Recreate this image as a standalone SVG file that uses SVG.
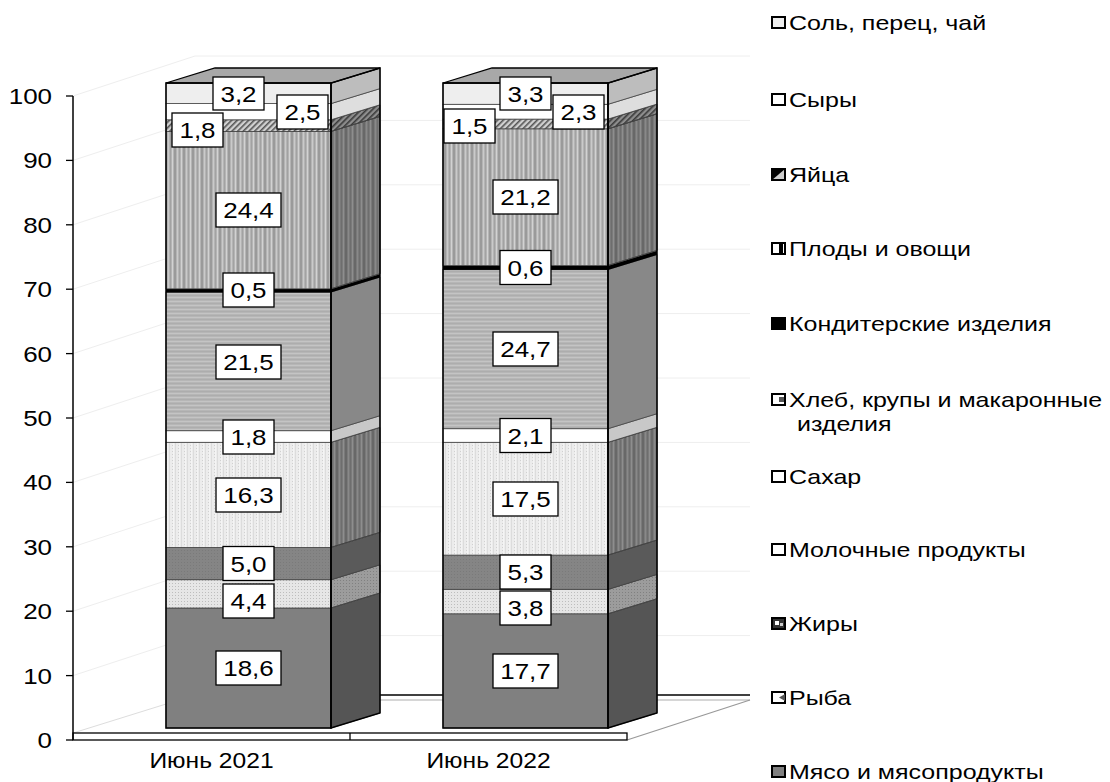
<svg xmlns="http://www.w3.org/2000/svg" width="1110" height="782" viewBox="0 0 1110 782">
<defs>
<style>
.t{font-family:"Liberation Sans",Arial,sans-serif;font-size:22px;fill:#000}
.lg{font-family:"Liberation Sans",Arial,sans-serif;font-size:21px;fill:#000}
.box{fill:#fff;stroke:#000;stroke-width:1.3}
.seg{stroke:#444;stroke-width:0.8}
.dark{fill:#000;fill-opacity:0.32;stroke:#444;stroke-width:0.8}
.grid{fill:none;stroke:#eeeeee;stroke-width:1}
.mk{stroke:#000;stroke-width:2}
</style>
<pattern id="pFruit" width="9" height="4" patternUnits="userSpaceOnUse">
<rect width="9" height="4" fill="#b4b4b4"/>
<rect x="1" width="1" height="4" fill="#d2d2d2"/>
<rect x="3" width="2" height="4" fill="#9a9a9a"/>
<rect x="6" width="1" height="4" fill="#cacaca"/>
<rect x="8" width="1" height="4" fill="#a2a2a2"/>
</pattern>
<pattern id="pDairy" width="6" height="3" patternUnits="userSpaceOnUse">
<rect width="6" height="3" fill="#ececec"/>
<rect x="1" width="1" height="3" fill="#dcdcdc"/>
<rect x="4" y="1" width="1" height="1" fill="#d0d0d0"/>
<rect x="5" width="1" height="3" fill="#f4f4f4"/>
</pattern>
<pattern id="pBread" width="4" height="4" patternUnits="userSpaceOnUse">
<rect width="4" height="4" fill="#b6b6b6"/>
<rect y="1" width="4" height="1" fill="#c4c4c4"/>
<rect y="3" width="4" height="1" fill="#adadad"/>
</pattern>
<pattern id="pFish" width="3" height="3" patternUnits="userSpaceOnUse">
<rect width="3" height="3" fill="#e6e6e6"/>
<rect x="1" y="1" width="1" height="1" fill="#bdbdbd"/>
</pattern>
<pattern id="pFat" width="3" height="3" patternUnits="userSpaceOnUse">
<rect width="3" height="3" fill="#858585"/>
<rect x="1" y="1" width="1" height="1" fill="#7a7a7a"/>
</pattern>
<pattern id="pEgg" width="4" height="4" patternUnits="userSpaceOnUse" patternTransform="rotate(45)">
<rect width="4" height="4" fill="#d0d0d0"/>
<rect width="1.6" height="4" fill="#555"/>
</pattern>
</defs>
<rect width="1110" height="782" fill="#fff"/>

<g id="gridlines">
<polyline class="grid" points="73,675.6 195,635.6 750,635.6"/>
<polyline class="grid" points="73,611.2 195,571.2 750,571.2"/>
<polyline class="grid" points="73,546.8 195,506.8 750,506.8"/>
<polyline class="grid" points="73,482.4 195,442.4 750,442.4"/>
<polyline class="grid" points="73,418 195,378 750,378"/>
<polyline class="grid" points="73,353.6 195,313.6 750,313.6"/>
<polyline class="grid" points="73,289.2 195,249.2 750,249.2"/>
<polyline class="grid" points="73,224.8 195,184.8 750,184.8"/>
<polyline class="grid" points="73,160.4 195,120.4 750,120.4"/>
<polyline class="grid" points="73,96 195,56 750,56"/>
</g>

<g id="floor">
<line x1="73" y1="733" x2="195" y2="695" stroke="#dddddd" stroke-width="1"/>
<line x1="195" y1="700" x2="750" y2="700" stroke="#c8c8c8" stroke-width="1.5"/>
<line x1="195" y1="695" x2="750" y2="695" stroke="#000" stroke-width="1.3"/>
<line x1="627" y1="740" x2="750" y2="700" stroke="#999" stroke-width="1.3"/>
<rect x="73" y="733" width="554" height="7" fill="#fff" stroke="#000" stroke-width="1.3"/>
<line x1="350" y1="733" x2="350" y2="740" stroke="#000" stroke-width="1.3"/>
</g>

<g id="axis">
<line x1="73" y1="96" x2="73" y2="740" stroke="#000" stroke-width="1.5"/>
<g stroke="#000" stroke-width="1.3">
<line x1="66" y1="740" x2="73" y2="740"/><line x1="66" y1="675.6" x2="73" y2="675.6"/>
<line x1="66" y1="611.2" x2="73" y2="611.2"/><line x1="66" y1="546.8" x2="73" y2="546.8"/>
<line x1="66" y1="482.4" x2="73" y2="482.4"/><line x1="66" y1="418" x2="73" y2="418"/>
<line x1="66" y1="353.6" x2="73" y2="353.6"/><line x1="66" y1="289.2" x2="73" y2="289.2"/>
<line x1="66" y1="224.8" x2="73" y2="224.8"/><line x1="66" y1="160.4" x2="73" y2="160.4"/>
<line x1="66" y1="96" x2="73" y2="96"/>
</g>
<g class="t" text-anchor="end">
<text transform="translate(52,748) scale(1.18,1)">0</text>
<text transform="translate(52,683.6) scale(1.18,1)">10</text>
<text transform="translate(52,619.2) scale(1.18,1)">20</text>
<text transform="translate(52,554.8) scale(1.18,1)">30</text>
<text transform="translate(52,490.4) scale(1.18,1)">40</text>
<text transform="translate(52,426) scale(1.18,1)">50</text>
<text transform="translate(52,361.6) scale(1.18,1)">60</text>
<text transform="translate(52,297.2) scale(1.18,1)">70</text>
<text transform="translate(52,232.8) scale(1.18,1)">80</text>
<text transform="translate(52,168.4) scale(1.18,1)">90</text>
<text transform="translate(52,104) scale(1.18,1)">100</text>
</g>
<g class="t" text-anchor="middle">
<text transform="translate(211.5,768) scale(1.12,1)">Июнь 2021</text>
<text transform="translate(488.5,768) scale(1.12,1)">Июнь 2022</text>
</g>
</g>

<g id="bar-2021">
<rect class="seg" x="166" y="608" width="165" height="120" fill="#808080"/>
<rect class="seg" x="166" y="579.7" width="165" height="28.3" fill="url(#pFish)"/>
<rect class="seg" x="166" y="547.4" width="165" height="32.3" fill="url(#pFat)"/>
<rect class="seg" x="166" y="442.3" width="165" height="105.1" fill="url(#pDairy)"/>
<rect class="seg" x="166" y="430.7" width="165" height="11.6" fill="#fff"/>
<rect class="seg" x="166" y="292" width="165" height="138.7" fill="url(#pBread)"/>
<rect x="166" y="288.8" width="165" height="3.8" fill="#000"/>
<rect class="seg" x="166" y="131.4" width="165" height="157.4" fill="url(#pFruit)"/>
<rect class="seg" x="166" y="119.8" width="165" height="11.6" fill="url(#pEgg)"/>
<rect class="seg" x="166" y="103.6" width="165" height="16.2" fill="#fff"/>
<rect class="seg" x="166" y="83" width="165" height="20.6" fill="#eeeeee"/>
<polygon class="seg" points="331,728 331,608 380,593 380,713" fill="#555"/>
<polygon class="seg" points="331,608 331,579.7 380,564.7 380,593" fill="url(#pFish)"/>
<polygon class="dark" points="331,608 331,579.7 380,564.7 380,593"/>
<polygon class="seg" points="331,579.7 331,547.4 380,532.4 380,564.7" fill="#5a5a5a"/>
<polygon class="seg" points="331,547.4 331,442.3 380,427.3 380,532.4" fill="url(#pFruit)"/>
<polygon class="dark" points="331,547.4 331,442.3 380,427.3 380,532.4"/>
<polygon class="seg" points="331,442.3 331,430.7 380,415.7 380,427.3" fill="#c8c8c8"/>
<polygon class="seg" points="331,430.7 331,292 380,277 380,415.7" fill="#888"/>
<polygon points="331,292.6 331,288.8 380,273.8 380,277.6" fill="#000"/>
<polygon class="seg" points="331,288.8 331,131.4 380,116.4 380,273.8" fill="url(#pFruit)"/>
<polygon class="dark" points="331,288.8 331,131.4 380,116.4 380,273.8" fill-opacity="0.42"/>
<polygon class="seg" points="331,131.4 331,119.8 380,104.8 380,116.4" fill="url(#pEgg)"/>
<polygon class="dark" points="331,131.4 331,119.8 380,104.8 380,116.4"/>
<polygon class="seg" points="331,119.8 331,103.6 380,88.6 380,104.8" fill="#dedede"/>
<polygon class="seg" points="331,103.6 331,83 380,68 380,88.6" fill="#bdbdbd"/>
<polygon points="166,83 331,83 380,68 215,68" fill="#a8a8a8" stroke="#000" stroke-width="1.3"/>
<rect x="166" y="83" width="165" height="645" fill="none" stroke="#000" stroke-width="1.5"/>
<polygon points="331,728 331,83 380,68 380,713" fill="none" stroke="#000" stroke-width="1.5"/>
</g>

<g id="bar-2022">
<rect class="seg" x="443" y="613.8" width="165" height="114.2" fill="#808080"/>
<rect class="seg" x="443" y="589.3" width="165" height="24.5" fill="url(#pFish)"/>
<rect class="seg" x="443" y="555.1" width="165" height="34.2" fill="url(#pFat)"/>
<rect class="seg" x="443" y="442.3" width="165" height="112.8" fill="url(#pDairy)"/>
<rect class="seg" x="443" y="428.7" width="165" height="13.6" fill="#fff"/>
<rect class="seg" x="443" y="269.4" width="165" height="159.3" fill="url(#pBread)"/>
<rect x="443" y="265.5" width="165" height="4.4" fill="#000"/>
<rect class="seg" x="443" y="128.8" width="165" height="136.7" fill="url(#pFruit)"/>
<rect class="seg" x="443" y="119.1" width="165" height="9.7" fill="url(#pEgg)"/>
<rect class="seg" x="443" y="104.3" width="165" height="14.8" fill="#fff"/>
<rect class="seg" x="443" y="83" width="165" height="21.3" fill="#eeeeee"/>
<polygon class="seg" points="608,728 608,613.8 657,598.8 657,713" fill="#555"/>
<polygon class="seg" points="608,613.8 608,589.3 657,574.3 657,598.8" fill="url(#pFish)"/>
<polygon class="dark" points="608,613.8 608,589.3 657,574.3 657,598.8"/>
<polygon class="seg" points="608,589.3 608,555.1 657,540.1 657,574.3" fill="#5a5a5a"/>
<polygon class="seg" points="608,555.1 608,442.3 657,427.3 657,540.1" fill="url(#pFruit)"/>
<polygon class="dark" points="608,555.1 608,442.3 657,427.3 657,540.1"/>
<polygon class="seg" points="608,442.3 608,428.7 657,413.7 657,427.3" fill="#c8c8c8"/>
<polygon class="seg" points="608,428.7 608,269.4 657,254.4 657,413.7" fill="#888"/>
<polygon points="608,269.9 608,265.5 657,250.5 657,254.9" fill="#000"/>
<polygon class="seg" points="608,265.5 608,128.8 657,113.8 657,250.5" fill="url(#pFruit)"/>
<polygon class="dark" points="608,265.5 608,128.8 657,113.8 657,250.5" fill-opacity="0.42"/>
<polygon class="seg" points="608,128.8 608,119.1 657,104.1 657,113.8" fill="url(#pEgg)"/>
<polygon class="dark" points="608,128.8 608,119.1 657,104.1 657,113.8"/>
<polygon class="seg" points="608,119.1 608,104.3 657,89.3 657,104.1" fill="#dedede"/>
<polygon class="seg" points="608,104.3 608,83 657,68 657,89.3" fill="#bdbdbd"/>
<polygon points="443,83 608,83 657,68 492,68" fill="#a8a8a8" stroke="#000" stroke-width="1.3"/>
<rect x="443" y="83" width="165" height="645" fill="none" stroke="#000" stroke-width="1.5"/>
<polygon points="608,728 608,83 657,68 657,713" fill="none" stroke="#000" stroke-width="1.5"/>
</g>

<g id="labels-2021">
<rect class="box" x="216" y="651" width="65" height="34"/><text class="t" text-anchor="middle" transform="translate(248.5,676) scale(1.18,1)">18,6</text>
<rect class="box" x="223" y="584" width="51" height="34"/><text class="t" text-anchor="middle" transform="translate(248.5,609) scale(1.18,1)">4,4</text>
<rect class="box" x="223" y="546.5" width="51" height="34"/><text class="t" text-anchor="middle" transform="translate(248.5,571.5) scale(1.18,1)">5,0</text>
<rect class="box" x="216" y="478" width="65" height="34"/><text class="t" text-anchor="middle" transform="translate(248.5,503) scale(1.18,1)">16,3</text>
<rect class="box" x="223" y="420" width="51" height="34"/><text class="t" text-anchor="middle" transform="translate(248.5,445) scale(1.18,1)">1,8</text>
<rect class="box" x="216" y="345" width="65" height="34"/><text class="t" text-anchor="middle" transform="translate(248.5,370) scale(1.18,1)">21,5</text>
<rect class="box" x="223" y="273" width="51" height="34"/><text class="t" text-anchor="middle" transform="translate(248.5,298) scale(1.18,1)">0,5</text>
<rect class="box" x="216" y="193" width="65" height="34"/><text class="t" text-anchor="middle" transform="translate(248.5,218) scale(1.18,1)">24,4</text>
<rect class="box" x="172" y="113" width="51" height="34"/><text class="t" text-anchor="middle" transform="translate(197.5,138) scale(1.18,1)">1,8</text>
<rect class="box" x="277" y="95" width="51" height="34"/><text class="t" text-anchor="middle" transform="translate(302.5,120) scale(1.18,1)">2,5</text>
<rect class="box" x="213" y="77" width="51" height="33"/><text class="t" text-anchor="middle" transform="translate(238.5,101.5) scale(1.18,1)">3,2</text>
</g>

<g id="labels-2022">
<rect class="box" x="493" y="654" width="65" height="34"/><text class="t" text-anchor="middle" transform="translate(525.5,679) scale(1.18,1)">17,7</text>
<rect class="box" x="500" y="591" width="51" height="34"/><text class="t" text-anchor="middle" transform="translate(525.5,616) scale(1.18,1)">3,8</text>
<rect class="box" x="500" y="555" width="51" height="34"/><text class="t" text-anchor="middle" transform="translate(525.5,580) scale(1.18,1)">5,3</text>
<rect class="box" x="493" y="482" width="65" height="34"/><text class="t" text-anchor="middle" transform="translate(525.5,507) scale(1.18,1)">17,5</text>
<rect class="box" x="500" y="418.5" width="51" height="34"/><text class="t" text-anchor="middle" transform="translate(525.5,443.5) scale(1.18,1)">2,1</text>
<rect class="box" x="493" y="332" width="65" height="34"/><text class="t" text-anchor="middle" transform="translate(525.5,357) scale(1.18,1)">24,7</text>
<rect class="box" x="500" y="250.5" width="51" height="34"/><text class="t" text-anchor="middle" transform="translate(525.5,275.5) scale(1.18,1)">0,6</text>
<rect class="box" x="493" y="180" width="65" height="34"/><text class="t" text-anchor="middle" transform="translate(525.5,205) scale(1.18,1)">21,2</text>
<rect class="box" x="444" y="109" width="51" height="34"/><text class="t" text-anchor="middle" transform="translate(469.5,134) scale(1.18,1)">1,5</text>
<rect class="box" x="553" y="95" width="51" height="34"/><text class="t" text-anchor="middle" transform="translate(578.5,120) scale(1.18,1)">2,3</text>
<rect class="box" x="500" y="77" width="51" height="33"/><text class="t" text-anchor="middle" transform="translate(525.5,101.5) scale(1.18,1)">3,3</text>
</g>

<g id="legend">
<g id="lg-salt"><rect class="mk" x="772" y="17" width="13" height="11" fill="#eee"/><text class="lg" transform="translate(789,30) scale(1.19,1)">Соль, перец, чай</text></g>
<g id="lg-cheese"><rect class="mk" x="772" y="94" width="13" height="11" fill="#fff"/><text class="lg" transform="translate(789,107) scale(1.19,1)">Сыры</text></g>
<g id="lg-eggs"><rect x="772" y="169" width="13" height="11" fill="#ccc"/><polygon points="772,169 785,169 772,180" fill="#000"/><rect class="mk" x="772" y="169" width="13" height="11" fill="none"/><text class="lg" transform="translate(789,182) scale(1.19,1)">Яйца</text></g>
<g id="lg-fruit"><rect class="mk" x="772" y="243" width="13" height="11" fill="#fff"/><rect x="779" y="243" width="4" height="11" fill="#000"/><text class="lg" transform="translate(789,256) scale(1.19,1)">Плоды и овощи</text></g>
<g id="lg-conf"><rect class="mk" x="772" y="318" width="13" height="11" fill="#000"/><text class="lg" transform="translate(789,331) scale(1.19,1)">Кондитерские изделия</text></g>
<g id="lg-bread"><rect class="mk" x="772" y="394" width="13" height="11" fill="#fff"/><rect x="779" y="397" width="5" height="5" fill="#555"/><text class="lg" transform="translate(789,407) scale(1.19,1)">Хлеб, крупы и макаронные</text><text class="lg" transform="translate(797,431) scale(1.19,1)">изделия</text></g>
<g id="lg-sugar"><rect class="mk" x="772" y="471" width="13" height="11" fill="#fff"/><text class="lg" transform="translate(789,484) scale(1.19,1)">Сахар</text></g>
<g id="lg-dairy"><rect class="mk" x="772" y="544" width="13" height="11" fill="#fff"/><text class="lg" transform="translate(789,557) scale(1.19,1)">Молочные продукты</text></g>
<g id="lg-fats"><rect class="mk" x="772" y="618" width="13" height="11" fill="#333"/><rect x="775" y="621" width="4" height="4" fill="#fff"/><rect x="780" y="623" width="3" height="3" fill="#ccc"/><text class="lg" transform="translate(789,631) scale(1.19,1)">Жиры</text></g>
<g id="lg-fish"><rect class="mk" x="772" y="692" width="13" height="11" fill="#fff"/><polygon points="785,694 779,697.5 785,701" fill="#555"/><text class="lg" transform="translate(789,705) scale(1.19,1)">Рыба</text></g>
<g id="lg-meat"><rect class="mk" x="772" y="766" width="13" height="11" fill="#808080"/><text class="lg" transform="translate(789,779) scale(1.19,1)">Мясо и мясопродукты</text></g>
</g>
</svg>
